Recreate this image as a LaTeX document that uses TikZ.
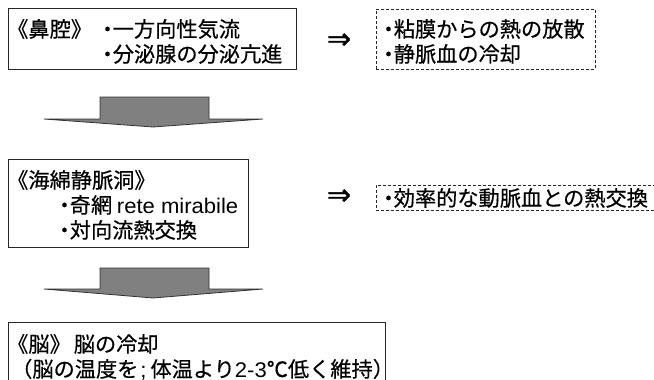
\documentclass[tikz,border=0pt]{standalone}
\usepackage{fontspec}
\setmainfont[FakeBold=0.5]{Noto Sans CJK JP}
\newfontfamily\latfont[FakeStretch=1.04]{Liberation Sans}
\newfontfamily\symfont[FakeBold=1]{DejaVu Sans}
\newcommand\bdot{\makebox[0.5em][c]{・}}
\newcommand\semic{\hspace{2pt}{\latfont ;}\hspace{4pt}}
\tikzset{
  solidbox/.style={draw=black!85, line width=0.8pt, anchor=north west, inner sep=0pt},
  dashbox/.style={draw=black!85, line width=0.7pt, dash pattern=on 3pt off 2pt, anchor=north west, inner sep=0pt},
  txt/.style={anchor=base west, inner sep=0pt, font=\fontsize{21.2}{25}\selectfont},
  implies/.style={anchor=center, inner sep=0pt, font=\symfont\fontsize{29}{32}\selectfont},
  blockarrow/.style={fill=black!50, draw=black!80, line width=0.8pt, line join=miter}
}
\begin{document}
\begin{tikzpicture}[x=1pt,y=-1pt]
\useasboundingbox (0,0) rectangle (654,380);
\clip (0,0) rectangle (654,380);
% boxes
\node[solidbox, minimum width=288pt, minimum height=61pt] (b1) at (8,8) {};
\node[solidbox, minimum width=240pt, minimum height=88pt] (b2) at (8,159) {};
\node[solidbox, minimum width=377pt, minimum height=90pt] (b3) at (8,322) {};
\node[dashbox, minimum width=219pt, minimum height=60pt] (d1) at (376,9) {};
\node[dashbox, minimum width=320pt, minimum height=25pt] (d2) at (376,185) {};
% texts box 1
\node[txt] (t11) at (7,37) {《鼻腔》};
\node[txt] (t12) at (102,37) {\bdot 一方向性気流};
\node[txt] (t13) at (102,62) {\bdot 分泌腺の分泌亢進};
% texts box 2
\node[txt] (t21) at (7,188) {《海綿静脈洞》};
\node[txt] (t22) at (59,213) {\bdot 奇網 {\latfont rete mirabile}};
\node[txt] (t23) at (59,238) {\bdot 対向流熱交換};
% texts box 3
\node[txt] (t31) at (7,352) {《脳》\hspace{3pt}脳の冷却};
\node[txt] (t32) at (11,377) {（脳の温度を\semic 体温より{\latfont 2-3}℃低く維持）};
% dashed texts
\node[txt] (u11) at (383,37) {\bdot 粘膜からの熱の放散};
\node[txt] (u12) at (383,62) {\bdot 静脈血の冷却};
\node[txt] (u21) at (383,206) {\bdot 効率的な動脈血との熱交換};
% implies
\node[implies] (i1) at (339,41) {⇒};
\node[implies] (i2) at (339,197) {⇒};
% block arrows
\draw[blockarrow] (100,97) -- (209,97) -- (209,119) -- (263,119) -- (153,127) -- (44,119) -- (100,119) -- cycle;
\draw[blockarrow] (100,268) -- (209,268) -- (209,289) -- (263,289) -- (153,298) -- (44,289) -- (100,289) -- cycle;
\end{tikzpicture}
\end{document}
